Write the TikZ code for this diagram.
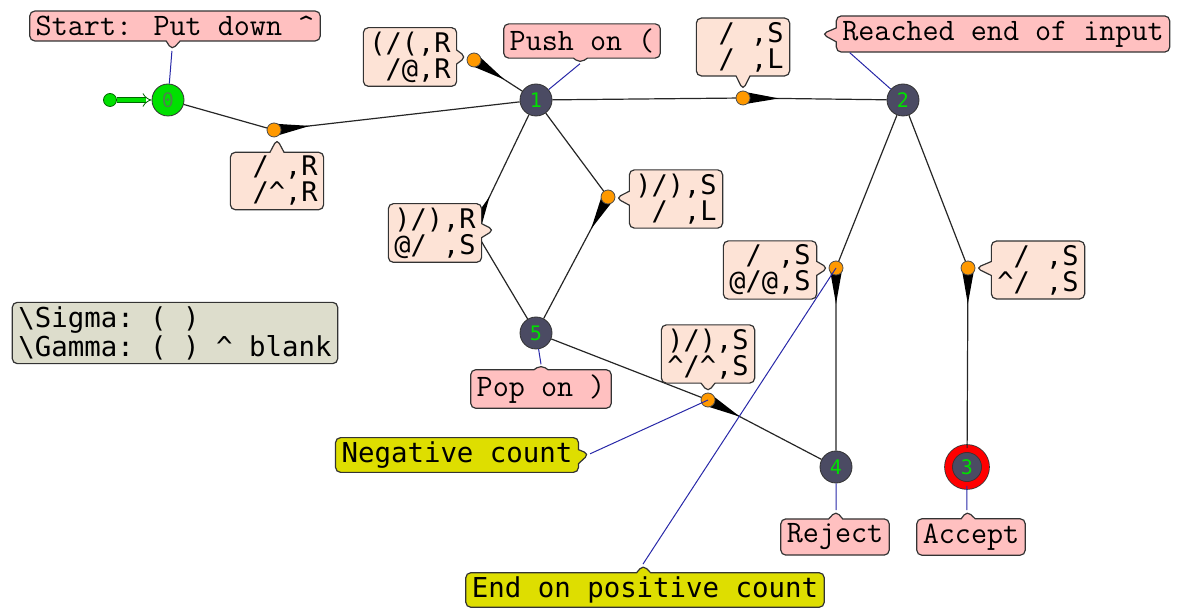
\documentclass[tikz,border=0pt]{standalone}
\usepackage{fontspec}
\setmonofont{DejaVu Sans Mono}
\newfontfamily\notefont{Latin Modern Mono}
\usetikzlibrary{arrows.meta,calc,shapes.callouts,positioning}
\tikzset{>={Latex[scale=1.5,round]}}
\definecolor{statefill}{HTML}{4B4B63}
\definecolor{stategreen}{HTML}{00E000}
\definecolor{labelfill}{HTML}{FDE3D6}
\definecolor{notefill}{HTML}{FFC0C0}
\definecolor{warnfill}{HTML}{DEDE00}
\definecolor{alphfill}{HTML}{DDDDCC}
\definecolor{dotorange}{HTML}{FF9900}
\definecolor{linkblue}{HTML}{2828A8}
\newcommand{\blk}{\phantom{x}}
\newcommand{\transwedge}[2]{\fill ($(#1)!3.2pt!90:(#2)$) -- ($(#1)!18pt!(#2)$) -- ($(#1)!3.2pt!-90:(#2)$) -- cycle;}
\tikzset{
  state/.style={circle,draw=black!80,fill=statefill,minimum size=16pt,inner sep=0pt,
    font=\ttfamily\fontsize{10}{10}\selectfont,text=stategreen},
  tdot/.style={circle,draw=black!70,fill=dotorange,minimum size=7pt,inner sep=0pt,thin},
  edge/.style={draw=black!85,line width=0.6pt},
  callbox/.style={rectangle callout,draw=black!80,rounded corners=2.5pt,inner xsep=3pt,
    inner ysep=2pt,callout pointer width=7pt,line width=0.6pt},
  trans/.style={callbox,fill=labelfill,align=left,
    font=\ttfamily\fontsize{13.5}{13}\selectfont},
  note/.style={callbox,fill=notefill,inner ysep=2.5pt,font=\notefont\fontsize{15.6}{16}\selectfont},
  warn/.style={callbox,fill=warnfill,font=\ttfamily\fontsize{13.7}{14}\selectfont},
  notelink/.style={draw=linkblue,line width=0.5pt},
}
\begin{document}
\begin{tikzpicture}[x=0.5pt,y=-0.5pt]
\useasboundingbox (0,0) rectangle (1182,608);
% States
\node[state,fill=stategreen,text=green!30!black!70] (s0) at (168,100) {0};
\node[state] (s1) at (536,100) {1};
\node[state] (s2) at (903,100) {2};
\node[state,minimum size=18.5pt,double=red,double distance=3.5pt] (s3) at (967,467) {3};
\node[state] (s4) at (836,467) {4};
\node[state] (s5) at (536,333) {5};
% Start
\node[circle,draw=green!40!black,fill=stategreen,minimum size=6.5pt,inner sep=0pt] (st) at (110,100) {};
\draw[draw=green!40!black,double=stategreen,double distance=2pt,-{Implies}] (st) -- (s0);
% Transitions
\coordinate (d01) at (274,130);
\coordinate (d11) at (474,60);
\coordinate (d12) at (743,98);
\coordinate (d51) at (474,229);
\coordinate (d15) at (608,197);
\coordinate (d54) at (708,400);
\coordinate (d24) at (836,268);
\coordinate (d23) at (968,268);
\draw[edge] (s0) -- (d01) -- (s1);
\draw[edge] (d11) -- (s1);
\draw[edge] (s1) -- (d12) -- (s2);
\draw[edge] (s5) -- (d51) -- (s1);
\draw[edge] (s1) -- (d15) -- (s5);
\draw[edge] (s5) -- (d54) -- (s4);
\draw[edge] (s2) -- (d24) -- (s4);
\draw[edge] (s2) -- (d23) -- (s3);
\transwedge{d01}{s1}
\transwedge{d11}{s1}
\transwedge{d12}{s2}
\transwedge{d51}{s1}
\transwedge{d15}{s5}
\transwedge{d54}{s4}
\transwedge{d24}{s4}
\transwedge{d23}{s3}
\foreach \d in {d01,d11,d12,d51,d15,d54,d24,d23}
  \node[tdot] at (\d) {};
% Notes links
\node[note,callout absolute pointer={(172,50)}] (n0) at (175,26) {Start: Put down \textasciicircum};
\node[note,callout absolute pointer={(580,63)}] (n1) at (582,41) {Push on (};
\node[note,callout absolute pointer={(822,34)}] (n2) at (1003,34) {Reached end of input};
\node[note,callout absolute pointer={(541,365)}] (n5) at (541,389) {Pop on )};
\node[note,callout absolute pointer={(836,511)}] (n4) at (835,537) {Reject};
\node[note,callout absolute pointer={(967,511)}] (n3) at (971,537) {Accept};
\node[warn,callout absolute pointer={(589,454)}] (w1) at (457,455) {Negative count};
\node[warn,callout absolute pointer={(643,565)}] (w2) at (645,590) {End on positive count};
\draw[notelink] (n0.pointer) -- (s0);
\draw[notelink] (n1.pointer) -- (s1);
\draw[notelink] ($(n2.south west)+(14,0)$) -- (s2);
\draw[notelink] (n5.pointer) -- (s5);
\draw[notelink] (n4.pointer) -- (s4);
\draw[notelink] (n3.pointer) -- (s3);
\draw[notelink] (w1.pointer) -- (d54);
\draw[notelink] (w2.pointer) -- (d24);
% Labels
\node[trans,callout absolute pointer={(277,139)}] (t01) at (277,181) {\blk/\blk,R\\\blk/\textasciicircum,R};
\node[trans,callout absolute pointer={(466,57)}] (t11) at (410,57) {(/(,R\\\blk/@,R};
\node[trans,callout absolute pointer={(743,90)}] (t12) at (743,47) {\blk/\blk,S\\\blk/\blk,L};
\node[trans,callout absolute pointer={(494,230)}] (t51) at (435,233) {)/),R\\@/\blk,S};
\node[trans,callout absolute pointer={(616,198)}] (t15) at (676,199) {)/),S\\\blk/\blk,L};
\node[trans,callout absolute pointer={(708,392)}] (t54) at (708,354) {)/),S\\\textasciicircum/\textasciicircum,S};
\node[trans,callout absolute pointer={(828,268)}] (t24) at (770,270) {\blk/\blk,S\\@/@,S};
\node[trans,callout absolute pointer={(976,268)}] (t23) at (1038,270) {\blk/\blk,S\\\textasciicircum/\blk,S};
% Alphabet
\node[draw=black!80,fill=alphfill,rounded corners=2.5pt,align=left,inner xsep=3pt,inner ysep=2pt,
  line width=0.6pt,font=\ttfamily\fontsize{13.7}{13}\selectfont] (alph) at (175,333)
  {\textbackslash Sigma: ( )\\\textbackslash Gamma: ( ) \textasciicircum{} blank};
\end{tikzpicture}
\end{document}
